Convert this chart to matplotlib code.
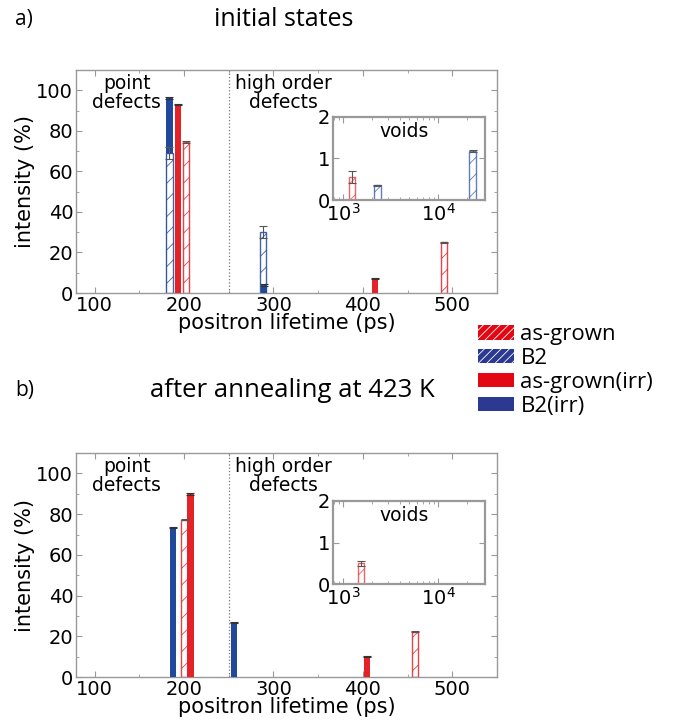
import numpy as np
import matplotlib.pyplot as plt
from matplotlib.colors import to_rgba
from matplotlib.patches import Patch
from matplotlib.ticker import MultipleLocator

RED = '#e52228'
BLUE = '#21499b'

# series: (positions, heights, errors)
# panel a) initial states
A_ASG = ([202, 490.5], [74.5, 25.0], [0.5, 0.4])
A_B2 = ([183.5, 288], [69.0, 30.0], [3.0, 3.0])
A_ASG_IRR = ([193, 414], [93.0, 7.0], [0.4, 0.3])
A_B2_IRR = ([183.5, 289.5], [96.0, 4.0], [0.5, 0.4])
A_VOID_ASG = ([1245], [0.55], [0.15])
A_VOID_B2 = ([2300, 23000], [0.35, 1.17], [0.02, 0.02])

# panel b) after annealing at 423 K
B_ASG = ([200.5, 458], [77.3, 22.2], [0.4, 0.3])
B_ASG_IRR = ([207, 404.5], [90.0, 10.0], [0.4, 0.4])
B_B2_IRR = ([187.5, 255.5], [73.4, 26.6], [0.3, 0.3])
B_VOID_ASG = ([1550], [0.50], [0.06])

LEGEND = ['as-grown', 'B2', 'as-grown(irr)', 'B2(irr)']

fig = plt.figure(figsize=(6.81, 7.2), dpi=100)
plt.rcParams['hatch.linewidth'] = 0.6
plt.rcParams['font.family'] = 'DejaVu Sans'


def style(ax, big=True):
    for s in ax.spines.values():
        s.set_color('#999999')
        s.set_linewidth(1.0 if big else 1.6)
    ax.tick_params(which='both', direction='in', top=True, right=True,
                   colors='#999999', labelcolor='black', labelsize=14,
                   pad=2)
    ax.tick_params(which='major', length=4)
    ax.tick_params(which='minor', length=2)


def hatched(ax, d, color, width=7, log=False):
    x, h, e = [np.array(v, dtype=float) for v in d]
    if log:
        f = 10 ** 0.034
        left = x / f
        w = x * f - left
        ax.bar(left, h, width=w, align='edge', facecolor='white',
               edgecolor=to_rgba(color, 0.7), hatch='//', linewidth=1.0)
    else:
        ax.bar(x, h, width=width, facecolor='white',
               edgecolor=to_rgba(color, 0.85), hatch='//', linewidth=1.0,
               zorder=2)
    ax.errorbar(x, h, yerr=e, fmt='none', ecolor='#555555', elinewidth=0.8,
                capsize=3, capthick=0.8, zorder=4)


def solid(ax, d, color, width=7, z=None):
    x, h, e = d
    bars = ax.bar(x, h, width=width, color=color, linewidth=0, zorder=3)
    if z is not None:
        for b, zz in zip(bars, z):
            b.set_zorder(zz)
    ax.errorbar(x, h, yerr=e, fmt='none', ecolor='#333333', elinewidth=0.8,
                capsize=3, capthick=0.8, zorder=4)


def main_axes(rect):
    ax = fig.add_axes(rect)
    ax.set_xlim(79, 550)
    ax.set_ylim(0, 110)
    ax.xaxis.set_major_locator(MultipleLocator(100))
    ax.xaxis.set_minor_locator(MultipleLocator(50))
    ax.yaxis.set_major_locator(MultipleLocator(20))
    ax.yaxis.set_minor_locator(MultipleLocator(10))
    style(ax)
    ax.axvline(250, color='#777777', linestyle=':', linewidth=0.9)
    ax.set_xlabel('positron lifetime (ps)', fontsize=15, labelpad=-1)
    ax.set_ylabel('intensity (%)', fontsize=15, labelpad=1)
    ax.text(136, 108, 'point\ndefects', ha='center', va='top', fontsize=13.5,
            linespacing=1.0)
    ax.text(311, 108, 'high order\ndefects', ha='center', va='top',
            fontsize=13.5, linespacing=1.0)
    return ax


def inset_axes(rect):
    ax = fig.add_axes(rect)
    ax.set_xscale('log')
    ax.set_xlim(780, 31000)
    ax.set_ylim(0, 2)
    ax.set_yticks([0, 1, 2])
    style(ax, big=False)
    ax.tick_params(axis='y', which='minor', left=False, right=False)
    ax.text(0.47, 0.82, 'voids', transform=ax.transAxes, ha='center',
            va='center', fontsize=13.5)
    return ax


# panel a
ax1 = main_axes([0.1116, 0.593, 0.618, 0.3097])
solid(ax1, A_B2_IRR, BLUE, z=[1, 3])
hatched(ax1, A_B2, BLUE)
solid(ax1, A_ASG_IRR, RED)
hatched(ax1, A_ASG, RED)
in1 = inset_axes([0.4885, 0.7222, 0.2236, 0.1157])
hatched(in1, A_VOID_ASG, RED, log=True)
hatched(in1, A_VOID_B2, BLUE, log=True)

# panel b
ax2 = main_axes([0.1116, 0.0597, 0.618, 0.311])
solid(ax2, B_B2_IRR, BLUE)
hatched(ax2, B_ASG, RED)
solid(ax2, B_ASG_IRR, RED)
in2 = inset_axes([0.4885, 0.1885, 0.2236, 0.1157])
hatched(in2, B_VOID_ASG, RED, log=True)

TFONT = 'Open Sans'
fig.text(0.022, 0.973, 'a)', fontsize=15, family=TFONT, va='center')
fig.text(0.416, 0.973, 'initial states', fontsize=18, family=TFONT,
         ha='center', va='center')
fig.text(0.022, 0.458, 'b)', fontsize=15, family=TFONT, va='center')
fig.text(0.43, 0.458, 'after annealing at 423 K', fontsize=18.5,
         family=TFONT, ha='center', va='center')

handles = [
    Patch(facecolor='#e30613', edgecolor='white', hatch='////', linewidth=0),
    Patch(facecolor='#2b3990', edgecolor='white', hatch='////', linewidth=0),
    Patch(facecolor='#e30613', linewidth=0),
    Patch(facecolor='#2b3990', linewidth=0),
]
fig.legend(handles, LEGEND, loc='upper left', bbox_to_anchor=(0.686, 0.565),
           frameon=False, prop={'family': TFONT, 'size': 16},
           handlelength=1.6, handleheight=0.6, handletextpad=0.3,
           labelspacing=0.13, borderpad=0)

fig.savefig('out.png', dpi=100)
